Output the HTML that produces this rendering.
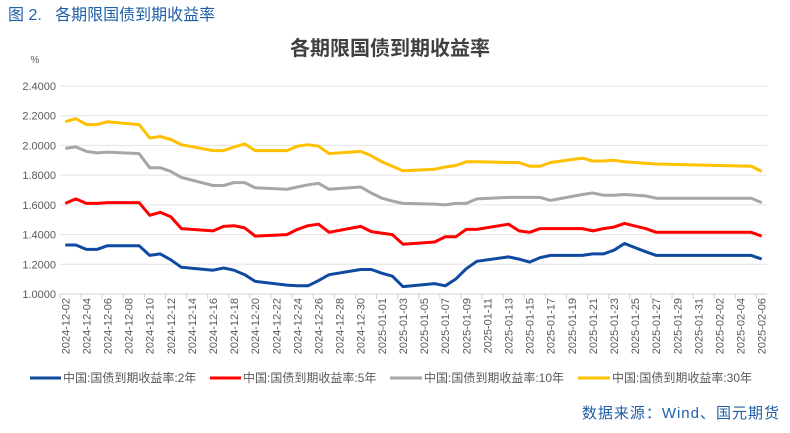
<!DOCTYPE html>
<html><head><meta charset="utf-8"><style>
body{margin:0;background:#fff;width:790px;height:428px;overflow:hidden;font-family:"Liberation Sans","Noto Sans CJK SC",sans-serif}
</style></head><body>
<svg width="790" height="428" xmlns="http://www.w3.org/2000/svg">
<text x="8" y="20" font-size="16" fill="#1f5fa8" font-family="Liberation Sans, Noto Sans CJK SC, sans-serif" xml:space="preserve">图 2.   各期限国债到期收益率</text>
<text x="390" y="55" font-size="20" font-weight="bold" fill="#404040" text-anchor="middle" font-family="Liberation Sans, Noto Sans CJK SC, sans-serif">各期限国债到期收益率</text>
<text x="35" y="63" font-size="10" fill="#595959" text-anchor="middle">%</text>
<g id="grid"></g><g id="xaxis"></g><g id="series"></g>
<g font-size="12" fill="#595959" font-family="Liberation Sans, Noto Sans CJK SC, sans-serif">
<g><line x1="30" y1="378" x2="61" y2="378" stroke="#0f4aa0" stroke-width="3"/><text x="63" y="382">中国:国债到期收益率:2年</text></g>
<g><line x1="210" y1="378" x2="241" y2="378" stroke="#ff0000" stroke-width="3"/><text x="243" y="382">中国:国债到期收益率:5年</text></g>
<g><line x1="390" y1="378" x2="422" y2="378" stroke="#a6a6a6" stroke-width="3"/><text x="424" y="382">中国:国债到期收益率:10年</text></g>
<g><line x1="578" y1="378" x2="610" y2="378" stroke="#ffc000" stroke-width="3"/><text x="612" y="382">中国:国债到期收益率:30年</text></g>
</g>
<text x="780" y="418" font-size="15" fill="#1f5fa8" text-anchor="end" letter-spacing="1" font-family="Liberation Sans, Noto Sans CJK SC, sans-serif">数据来源：Wind、国元期货</text>
</svg>
<script>
const dayIdx=[0,1,2,3,4,7,8,9,10,11,14,15,16,17,18,21,22,23,24,25,28,29,30,31,32,35,36,37,38,39,42,43,44,45,46,49,50,51,52,53,55,56,65,66];
const y2=[1.33,1.33,1.30,1.30,1.325,1.325,1.26,1.27,1.23,1.18,1.16,1.175,1.16,1.13,1.085,1.06,1.055,1.055,1.09,1.13,1.165,1.165,1.14,1.12,1.05,1.07,1.055,1.10,1.17,1.22,1.25,1.235,1.215,1.245,1.26,1.26,1.27,1.27,1.295,1.34,1.285,1.26,1.26,1.235];
const y5=[1.61,1.64,1.61,1.61,1.615,1.615,1.53,1.55,1.52,1.44,1.425,1.455,1.46,1.445,1.39,1.40,1.435,1.46,1.47,1.415,1.455,1.42,1.41,1.40,1.335,1.35,1.385,1.385,1.435,1.435,1.47,1.425,1.415,1.44,1.44,1.44,1.425,1.44,1.45,1.475,1.44,1.415,1.415,1.39];
const y10=[1.98,1.99,1.96,1.95,1.955,1.945,1.85,1.85,1.825,1.785,1.73,1.73,1.75,1.75,1.715,1.705,1.72,1.735,1.745,1.705,1.72,1.68,1.645,1.625,1.61,1.605,1.60,1.61,1.61,1.64,1.65,1.65,1.65,1.65,1.63,1.67,1.68,1.665,1.665,1.67,1.66,1.645,1.645,1.615];
const y30=[2.16,2.18,2.14,2.14,2.16,2.14,2.05,2.06,2.04,2.005,1.965,1.965,1.99,2.01,1.965,1.965,1.995,2.005,1.995,1.945,1.96,1.93,1.89,1.86,1.83,1.84,1.855,1.865,1.89,1.89,1.885,1.885,1.86,1.86,1.885,1.915,1.895,1.895,1.90,1.89,1.88,1.875,1.86,1.825];
const yTicks=[1.0,1.2,1.4,1.6,1.8,2.0,2.2,2.4];
const NS="http://www.w3.org/2000/svg";
const x0=60,x1=767,nCat=67,yBase=294,yTop=86,vMin=1.0,vMax=2.4;
const cw=(x1-x0)/nCat;
const X=i=>x0+(i+0.5)*cw;
const Y=v=>yBase-(v-vMin)/(vMax-vMin)*(yBase-yTop);
function mk(t,a,p){const e=document.createElementNS(NS,t);for(const k in a)e.setAttribute(k,a[k]);p.appendChild(e);return e;}
const grid=document.getElementById('grid');
yTicks.forEach(v=>{
 const l=mk('line',{x1:x0,x2:x1,y1:Y(v),y2:Y(v),stroke:v===vMin?'#d0d0d0':'#e3e3e3','stroke-width':1},grid);
 
 
 const t=mk('text',{x:56,y:Y(v)+4,'font-size':11,fill:'#595959','text-anchor':'end'},grid);
 t.textContent=v.toFixed(4);
 
 
});
const xa=document.getElementById('xaxis');
const start=new Date(Date.UTC(2024,11,2));
for(let i=0;i<nCat;i+=2){
 const tk=mk('line',{x1:x0+i*cw,x2:x0+i*cw,y1:yBase,y2:yBase+5,stroke:'#d0d0d0'},xa);
 
 
 const d=new Date(start.getTime()+i*864e5);
 const s=d.toISOString().slice(0,10);
 const t=mk('text',{x:0,y:0,'font-size':11,fill:'#595959','text-anchor':'end',transform:`translate(${X(i)+4},${yBase+4}) rotate(-90)`},xa);
 t.textContent=s;
 
 
}
const ser=document.getElementById('series');
[[y10,'#a6a6a6','series-10y'],[y30,'#ffc000','series-30y'],[y5,'#ff0000','series-5y'],[y2,'#0f4aa0','series-2y']].forEach(([arr,c,n])=>{
 const p=mk('polyline',{points:arr.map((v,k)=>X(dayIdx[k]).toFixed(1)+','+Y(v).toFixed(1)).join(' '),fill:'none',stroke:c,'stroke-width':3,'stroke-linejoin':'round'},ser);
 
 
});
</script>
</body></html>
